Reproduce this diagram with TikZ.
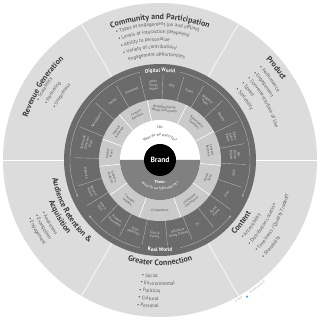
\documentclass[tikz,border=0pt]{standalone}
\usepackage{fontspec}
\setmainfont{PT Sans}
\usetikzlibrary{arrows.meta,decorations.text}
\definecolor{outerfill}{HTML}{DCDCDC}
\definecolor{darkring}{HTML}{6B6B6B}
\definecolor{midring}{HTML}{CACACA}
\definecolor{themfill}{HTML}{808080}
\definecolor{titlegray}{HTML}{3C3C3C}
\definecolor{listgray}{HTML}{5A5A5A}
\definecolor{dotblue}{HTML}{4FA3D9}

\begin{document}
\begin{tikzpicture}[
  ringlabel/.style={font=\fontsize{3.3}{3.7}\selectfont, text=white!88!black, align=center, inner sep=0pt},
  midlabel/.style={font=\fontsize{3.3}{3.7}\selectfont, text=black!70, align=center, inner sep=0pt},
  sectitle/.style={decorate, decoration={text along path, text align=center, text={|\fontsize{8}{9}\selectfont\bfseries\color{titlegray}|#1}}},
  secleft/.style={decorate, decoration={text along path, text={|\fontsize{8}{9}\selectfont\bfseries\color{titlegray}|#1}}},
  bullet/.style={decorate, decoration={text along path, text={|\fontsize{5}{6}\selectfont\color{listgray}|#1}}},
  ringtitle/.style={decorate, decoration={text along path, text align=center, text={|\fontsize{5.2}{6}\selectfont\bfseries\color{white}|#1}}},
  usline/.style={decorate, decoration={text along path, text align=center, text={|\fontsize{3.6}{4}\selectfont\color{titlegray}|#1}}},
  themline/.style={decorate, decoration={text along path, text align=center, text={|\fontsize{3.6}{4}\selectfont\color{white}|#1}}},
  divider/.style={white, line width=0.6pt},
  darkdiv/.style={white!70!black, line width=0.4pt},
  flow/.style={draw=white!72!black, line width=0.35pt, -{Stealth[length=2.4pt,width=2pt]}}
]
\useasboundingbox (-160pt,-160pt) rectangle (160pt,160pt);
\fill[white] (-160pt,-160pt) rectangle (160pt,160pt);
\fill[outerfill] (0,0) circle (157pt);
\foreach \a in {0,60,...,300} \draw[divider] (0,0) -- (\a:157pt);

\path[sectitle={Community and Participation}] (135:140.5pt) arc[start angle=135, end angle=45, radius=140.5pt];
\path[bullet={• Types of engagement (on and offline)}] (109:134pt) arc[start angle=109, end angle=20, radius=134pt];
\path[bullet={• Levels of interaction (deepness)}] (109:126.5pt) arc[start angle=109, end angle=20, radius=126.5pt];
\path[bullet={• Ability to personalize}] (109:119pt) arc[start angle=109, end angle=20, radius=119pt];
\path[bullet={• Variety of contribution/}] (109:111.5pt) arc[start angle=109, end angle=20, radius=111.5pt];
\path[bullet={engagement opportunities}] (107.5:104pt) arc[start angle=107.5, end angle=20, radius=104pt];

\begin{scope}[rotate=60]
\path[sectitle={Revenue Generation}] (133:139pt) arc[start angle=133, end angle=43, radius=139pt];
\path[bullet={• Scalability}] (94:134.5pt) arc[start angle=94, end angle=20, radius=134.5pt];
\path[bullet={• Partnering}] (94:125.5pt) arc[start angle=94, end angle=20, radius=125.5pt];
\path[bullet={• Uniqueness}] (94:116.5pt) arc[start angle=94, end angle=20, radius=116.5pt];
\end{scope}

\begin{scope}[rotate=-60]
\path[secleft={Product}] (103.5:146pt) arc[start angle=103.5, end angle=30, radius=146pt];
\path[bullet={• Performance}] (103:135.5pt) arc[start angle=103, end angle=20, radius=135.5pt];
\path[bullet={• Engagement}] (103:127.5pt) arc[start angle=103, end angle=20, radius=127.5pt];
\path[bullet={• Convenience/Ease of Use}] (103:119.5pt) arc[start angle=103, end angle=20, radius=119.5pt];
\path[bullet={• Speed}] (103:111.5pt) arc[start angle=103, end angle=20, radius=111.5pt];
\path[bullet={• Scalability}] (103:103.5pt) arc[start angle=103, end angle=20, radius=103.5pt];
\end{scope}

\path[sectitle={Greater Connection}] (225:105.5pt) arc[start angle=225, end angle=315, radius=105.5pt];
\path[bullet={• Social}] (261:118pt) arc[start angle=261, end angle=340, radius=118pt];
\path[bullet={• Environmental}] (261:125.5pt) arc[start angle=261, end angle=340, radius=125.5pt];
\path[bullet={• Political}] (261:133pt) arc[start angle=261, end angle=340, radius=133pt];
\path[bullet={• Cultural}] (261:140.5pt) arc[start angle=261, end angle=340, radius=140.5pt];
\path[bullet={• Personal}] (261:148pt) arc[start angle=261, end angle=340, radius=148pt];

\begin{scope}[rotate=60]
\path[secleft={Content}] (255:105.5pt) arc[start angle=255, end angle=330, radius=105.5pt];
\path[bullet={• Accessibility}] (256.5:114.5pt) arc[start angle=256.5, end angle=340, radius=114.5pt];
\path[bullet={• Distribution Location}] (256.5:124pt) arc[start angle=256.5, end angle=340, radius=124pt];
\path[bullet={• Timeliness / Quality Tradeoff}] (256.5:133.5pt) arc[start angle=256.5, end angle=340, radius=133.5pt];
\path[bullet={• Sharability}] (256.5:143pt) arc[start angle=256.5, end angle=340, radius=143pt];
\end{scope}

\begin{scope}[rotate=-60]
\path[sectitle={Audience Retention {\&}}] (224.5:109pt) arc[start angle=224.5, end angle=314.5, radius=109pt];
\path[sectitle={Acquisition}] (224.5:118.5pt) arc[start angle=224.5, end angle=314.5, radius=118.5pt];
\path[bullet={• Awareness}] (264:129pt) arc[start angle=264, end angle=340, radius=129pt];
\path[bullet={• Evangelism}] (264:136.5pt) arc[start angle=264, end angle=340, radius=136.5pt];
\path[bullet={• Engagement}] (264:144pt) arc[start angle=264, end angle=340, radius=144pt];
\end{scope}

\path[decorate, decoration={text along path, text={|\fontsize{2.4}{3}\selectfont\color{black!45}|© 2009}}] (-62:161pt) arc[start angle=-62, end angle=-50, radius=161pt];
\fill[dotblue] (-57.5:162pt) circle (1.2pt);
\path[decorate, decoration={text along path, text={|\fontsize{2.4}{3}\selectfont\color{black!45}|All rights reserved}}] (-56:161pt) arc[start angle=-56, end angle=-25, radius=161pt];

\fill[darkring] (0,0) circle (96pt);
\foreach \a in {120.5,103.5,88,74,59.5,43.5,26.5,11,-3,-18.5,-35,-51.5,-68,-85,-102,-118,-133.5,-148,-162.5,178.5,157.5,138.5}
  \draw[darkdiv] (\a:61pt) -- (\a:86pt);
\draw[flow] (103:90pt) arc[start angle=103, end angle=204, radius=90pt];
\draw[flow] (257:90pt) arc[start angle=257, end angle=218, radius=90pt];
\draw[flow] (77:90pt) arc[start angle=77, end angle=-24, radius=90pt];
\draw[flow] (-77:90pt) arc[start angle=-77, end angle=-38, radius=90pt];
\path[ringtitle={Digital World}] (135:88pt) arc[start angle=135, end angle=45, radius=88pt];
\path[ringtitle={Real World}] (225:91.5pt) arc[start angle=225, end angle=315, radius=91.5pt];

\node[ringlabel, rotate=39] (twitter) at (129:75pt) {Twitter};
\node[ringlabel, rotate=22] (facebook) at (112:75pt) {Facebook};
\node[ringlabel, rotate=5] (othersm) at (95:75pt) {Other\\Social\\Media};
\node[ringlabel, rotate=-9] (rss) at (81:75pt) {RSS};
\node[ringlabel, rotate=-23] (email) at (67:75pt) {Email};
\node[ringlabel, rotate=-38] (widgets) at (52:75pt) {Widgets/\\Apps};
\node[ringlabel, rotate=-55] (mobile) at (35:75pt) {Mobile};
\node[ringlabel, rotate=-72] (video) at (18:75pt) {Video\\Audio\\Photo};
\node[ringlabel, rotate=-86] (ads) at (4:75pt) {Ads\\Online\\Digital};
\node[ringlabel, rotate=80] (seo) at (-10:75pt) {SEO};
\node[ringlabel, rotate=63] (print) at (-27:75pt) {Print};
\node[ringlabel, rotate=47] (ooh) at (-43:75pt) {Out of\\Home};
\node[ringlabel, rotate=30] (tv) at (-60:75pt) {TV};
\node[ringlabel, rotate=14] (influencer) at (-76:75pt) {Influencer\\Group Pitches};
\node[ringlabel, rotate=-4] (conf) at (-94:75pt) {Conf \&\\Events};
\node[ringlabel, rotate=-20] (sales) at (-110:75pt) {Sales\\Materials};
\node[ringlabel, rotate=-36] (placement) at (-126:75pt) {Product\\Placement};
\node[ringlabel, rotate=-51] (mail) at (-141:75pt) {Direct\\Mail};
\node[ringlabel, rotate=-65] (wom) at (-155:75pt) {Word of\\Mouth};
\node[ringlabel, rotate=-80] (website) at (-170:75pt) {Website};
\node[ringlabel, rotate=77] (bookmarks) at (167:75pt) {Technorati\\Delicious\\Digg};
\node[ringlabel, rotate=58] (newsletters) at (148:75pt) {Newsletters};

\fill[midring] (0,0) circle (61pt);
\foreach \a in {64,102,132,160,186,215,250,290,325,355,28}
  \draw[divider] (\a:40pt) -- (\a:61pt);
\node[midlabel, rotate=-5] (blogging) at (85:51pt) {Blogging/Social\\Media Community};
\node[midlabel, rotate=27] (retailers) at (117:51pt) {Content\\Retailers};
\node[midlabel, rotate=56] (internal) at (146:51pt) {Internal\\Audience};
\node[midlabel, rotate=83] (press) at (173:51pt) {Media/\\Press};
\node[midlabel, rotate=-70] (analysts) at (200:51pt) {Industry\\Analysts};
\node[midlabel, rotate=-38] (leaders) at (232:51pt) {Thought\\Leaders};
\node[midlabel] (competitors) at (270:51pt) {Competitors};
\node[midlabel, rotate=37] (interested) at (307:51pt) {Interested\\Community};
\node[midlabel, rotate=70] (retail) at (340:51pt) {Retail\\Sales};
\node[midlabel, rotate=-79] (partners) at (11:51pt) {Content\\Partners};
\node[midlabel, rotate=-44] (sponsors) at (46:51pt) {Advertisers/\\Sponsors};

\fill[white] (0,0) circle (40pt);
\fill[themfill] (-40pt,0) arc[start angle=180, end angle=360, radius=40pt] -- cycle;
\node[font=\fontsize{4.2}{5}\selectfont, text=titlegray] (us) at (0,33pt) {Us:};
\path[usline={What do we stand for?}] (150:24pt) arc[start angle=150, end angle=30, radius=24pt];
\node[font=\fontsize{4.2}{5}\selectfont\bfseries, text=white] (them) at (0,-22pt) {Them:};
\path[themline={What do we fight against?}] (200:30pt) arc[start angle=200, end angle=340, radius=30pt];
\node[circle, fill=black, minimum size=32pt, inner sep=0pt, text=white, font=\fontsize{7.5}{8}\selectfont\bfseries] (brand) at (0,0) {Brand};
\end{tikzpicture}
\end{document}
